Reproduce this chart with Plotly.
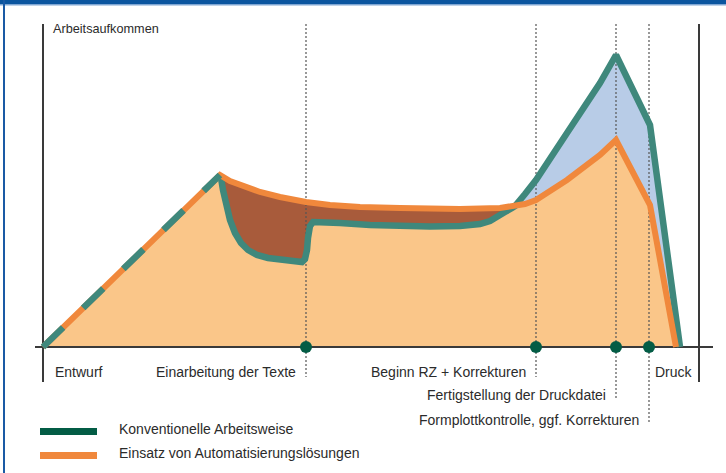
import plotly.graph_objects as go

# ---- data (time units from project start, workload units above baseline) ----
orange_x = [0, 177, 187, 202, 217, 237, 263, 287, 317, 357, 417, 457, 472, 482, 493, 524, 557, 573, 607, 633]
orange_y = [0, 172, 166, 160, 155, 150, 145, 142, 140, 139, 138, 139, 141, 143, 147, 167, 192, 207, 142, 0]

green_x = [0, 177, 178, 180, 183, 187, 192, 198, 205, 214, 225, 239, 253, 259, 262, 264, 265, 267, 270,
           282, 297, 327, 357, 387, 417, 437, 447, 455, 462, 469, 472, 482, 493, 524, 557, 573, 607, 637]
green_y = [0, 172, 169, 157, 142, 127, 114, 104, 97, 92, 89, 87, 85, 85, 88, 97, 109, 121, 125,
           125, 124, 122, 121, 120.5, 121, 123, 126, 130, 135, 139, 141, 153, 167, 214, 264, 292, 222, 0]

peak_x = 177      # end of shared draft phase
cross_x = 472     # where the two curves cross

milestone_x = [263, 493, 573, 606]
milestone_labels = ["Einarbeitung der Texte", "Beginn RZ + Korrekturen",
                    "Fertigstellung der Druckdatei", "Formplottkontrolle, ggf. Korrekturen"]
start_label = "Entwurf"
end_label = "Druck"
y_title = "Arbeitsaufkommen"
series_names = ["Konventionelle Arbeitsweise", "Einsatz von Automatisierungslösungen"]

# ---- styles ----
C_GREEN = "#3f887c"
C_GREEN_DARK = "#035c45"
C_ORANGE = "#f0883c"
C_LIGHT = "#fac689"
C_BROWN = "#a85b3b"
C_BLUE = "#b8cce7"
C_AXIS = "#3a3a3a"
C_TEXT = "#2b2b2b"
FONT = "Liberation Sans, Arial, sans-serif"

AX_TOP = 323
X_END = 656
dotted_bottom = [-30, -30, -52, -76]
label_y = [-25, -25, -48, -73]

fig = go.Figure()

# light orange area under automation curve
fig.add_trace(go.Scatter(x=orange_x, y=orange_y, mode="lines", line=dict(width=0),
                         fill="tozeroy", fillcolor=C_LIGHT, hoverinfo="skip"))

# brown region between curves (automation above conventional)
o1, o2 = orange_x.index(peak_x), orange_x.index(cross_x)
g1, g2 = green_x.index(peak_x), green_x.index(cross_x)
fig.add_trace(go.Scatter(x=orange_x[o1:o2 + 1], y=orange_y[o1:o2 + 1], mode="lines",
                         line=dict(width=0), hoverinfo="skip"))
fig.add_trace(go.Scatter(x=green_x[g1:g2 + 1], y=green_y[g1:g2 + 1], mode="lines",
                         line=dict(width=0), fill="tonexty", fillcolor=C_BROWN, hoverinfo="skip"))
# blue region (conventional above automation)
fig.add_trace(go.Scatter(x=orange_x[o2:], y=orange_y[o2:], mode="lines",
                         line=dict(width=0), hoverinfo="skip"))
fig.add_trace(go.Scatter(x=green_x[g2:], y=green_y[g2:], mode="lines",
                         line=dict(width=0), fill="tonexty", fillcolor=C_BLUE, hoverinfo="skip"))

# dotted milestone lines
for mx, yb in zip(milestone_x, dotted_bottom):
    fig.add_trace(go.Scatter(x=[mx, mx], y=[AX_TOP, yb], mode="lines",
                             line=dict(color="#555555", width=1.2, dash="2px,2px"), hoverinfo="skip"))

# axes
fig.add_trace(go.Scatter(x=[0, 0], y=[AX_TOP, -35], mode="lines",
                         line=dict(color=C_AXIS, width=2), hoverinfo="skip"))
fig.add_trace(go.Scatter(x=[X_END, X_END], y=[AX_TOP, -35], mode="lines",
                         line=dict(color=C_AXIS, width=2), hoverinfo="skip"))
fig.add_trace(go.Scatter(x=[-8, 670], y=[0, 0], mode="lines",
                         line=dict(color=C_AXIS, width=2), hoverinfo="skip"))

# curves
fig.add_trace(go.Scatter(x=green_x[g1:], y=green_y[g1:], mode="lines",
                         line=dict(color=C_GREEN, width=6.5), hoverinfo="skip"))
fig.add_trace(go.Scatter(x=orange_x, y=orange_y, mode="lines",
                         line=dict(color=C_ORANGE, width=6), hoverinfo="skip"))
fig.add_trace(go.Scatter(x=green_x[:g1 + 1], y=green_y[:g1 + 1], mode="lines",
                         line=dict(color=C_GREEN, width=6.5, dash="28px,28px"), hoverinfo="skip"))

# milestone dots
fig.add_trace(go.Scatter(x=milestone_x, y=[0] * len(milestone_x), mode="markers",
                         marker=dict(color=C_GREEN_DARK, size=12, line=dict(width=0)), hoverinfo="skip"))

ann = []
ann.append(dict(x=8, y=318, text=y_title, xanchor="left", yanchor="middle",
                font=dict(size=12.7, color=C_TEXT, family=FONT), showarrow=False))
ann.append(dict(x=10, y=-25, text=start_label, xanchor="left", yanchor="middle",
                font=dict(size=14, color=C_TEXT, family=FONT), showarrow=False))
for mx, lab, ly in zip(milestone_x, milestone_labels, label_y):
    ann.append(dict(x=mx - 8, y=ly, text=lab, xanchor="right", yanchor="middle",
                    font=dict(size=14, color=C_TEXT, family=FONT), showarrow=False))
ann.append(dict(x=610, y=-25, text=end_label, xanchor="left", yanchor="middle",
                font=dict(size=14, color=C_TEXT, family=FONT), showarrow=False))
ann.append(dict(x=74, y=-82, text=series_names[0], xanchor="left", yanchor="middle",
                font=dict(size=14, color=C_TEXT, family=FONT), showarrow=False))
ann.append(dict(x=74, y=-106, text=series_names[1], xanchor="left", yanchor="middle",
                font=dict(size=14, color=C_TEXT, family=FONT), showarrow=False))

shapes = [
    dict(type="line", xref="x", yref="y", x0=-3, x1=54, y0=-84.5, y1=-84.5,
         line=dict(color=C_GREEN_DARK, width=7)),
    dict(type="line", xref="x", yref="y", x0=-3, x1=54, y0=-108.5, y1=-108.5,
         line=dict(color=C_ORANGE, width=7)),
    # frame
    dict(type="rect", xref="paper", yref="paper", x0=0, x1=1, y0=1 - 4 / 473, y1=1,
         fillcolor="#0b559f", line=dict(width=0)),
    dict(type="rect", xref="paper", yref="paper", x0=0, x1=1, y0=1 - 5.5 / 473, y1=1 - 4 / 473,
         fillcolor="#7fa6d3", line=dict(width=0)),
    dict(type="rect", xref="paper", yref="paper", x0=3 / 726, x1=5 / 726, y0=0, y1=1,
         fillcolor="#1a5aa5", line=dict(width=0)),
]

fig.update_layout(
    width=726, height=473,
    margin=dict(l=0, r=0, t=0, b=0, pad=0),
    paper_bgcolor="white", plot_bgcolor="white",
    showlegend=False,
    xaxis=dict(range=[-43, 683], visible=False, fixedrange=True),
    yaxis=dict(range=[-126, 347], visible=False, fixedrange=True),
    annotations=ann, shapes=shapes,
)

fig.write_html("out.html", config={"displayModeBar": False},
               post_script="document.body.style.margin='0';document.body.style.overflow='hidden';")
